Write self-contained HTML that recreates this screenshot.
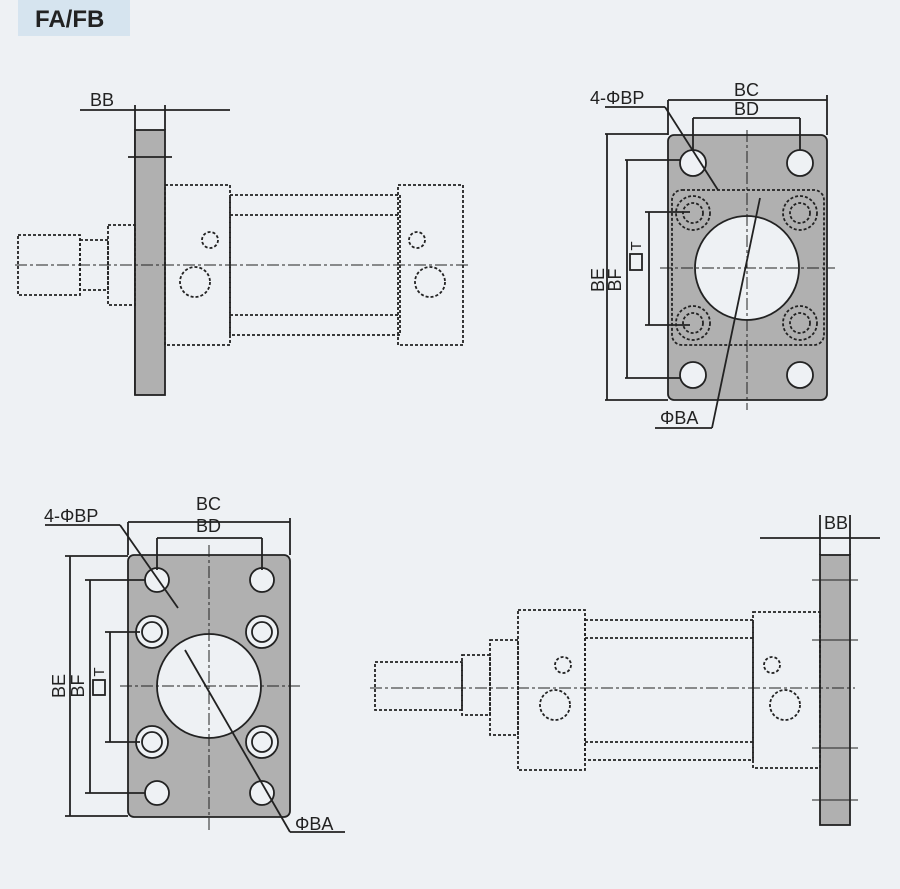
<!DOCTYPE html>
<html><head><style>
html,body{margin:0;padding:0;background:#eef1f4;}
svg{display:block;}
text{font-family:"Liberation Sans",sans-serif;fill:#222;}
</style></head><body>
<svg width="900" height="889" viewBox="0 0 900 889" xmlns="http://www.w3.org/2000/svg">
<rect width="900" height="889" fill="#eef1f4"/>
<rect x="18" y="0" width="112" height="36" fill="#d6e4ef"/>
<text x="35" y="27" font-size="24" font-weight="bold">FA/FB</text>

<g stroke="#222" fill="none" stroke-width="1.8">
<!-- Left side view (top) -->
<line x1="80" y1="110" x2="230" y2="110"/>
<line x1="135" y1="105" x2="135" y2="395"/>
<line x1="165" y1="105" x2="165" y2="130"/>
<rect x="135" y="130" width="30" height="265" fill="#b0b0b0"/>
<line x1="128" y1="157" x2="172" y2="157"/>
<g stroke-dasharray="3,2">
<rect x="165" y="185" width="65" height="160"/>
<rect x="230" y="195" width="170" height="140"/>
<rect x="398" y="185" width="65" height="160"/>
<rect x="108" y="225" width="27" height="80"/>
<rect x="80" y="240" width="28" height="50"/>
<rect x="18" y="235" width="62" height="60"/>
<circle cx="210" cy="240" r="8"/>
<circle cx="195" cy="282" r="15"/>
<circle cx="417" cy="240" r="8"/>
<circle cx="430" cy="282" r="15"/>
<line x1="230" y1="215" x2="398" y2="215"/>
<line x1="230" y1="315" x2="398" y2="315"/>
</g>
<line x1="15" y1="265" x2="470" y2="265" stroke-dasharray="12,3,3,3" stroke-width="1"/>

<!-- Top-right front view -->
<rect x="668" y="135" width="159" height="265" rx="6" fill="#b0b0b0"/>
<rect x="672" y="190" width="152" height="155" rx="10" stroke-dasharray="3,2"/>
<circle cx="747" cy="268" r="52" fill="#eef1f4"/>
<g fill="#eef1f4">
<circle cx="693" cy="163" r="13"/><circle cx="800" cy="163" r="13"/>
<circle cx="693" cy="375" r="13"/><circle cx="800" cy="375" r="13"/>
</g>
<g stroke-dasharray="3,2">
<circle cx="693" cy="213" r="17"/><circle cx="800" cy="213" r="17"/>
<circle cx="693" cy="323" r="17"/><circle cx="800" cy="323" r="17"/>
<circle cx="693" cy="213" r="10"/><circle cx="800" cy="213" r="10"/>
<circle cx="693" cy="323" r="10"/><circle cx="800" cy="323" r="10"/>
</g>
<line x1="747" y1="130" x2="747" y2="410" stroke-dasharray="12,3,3,3" stroke-width="1"/>
<line x1="660" y1="268" x2="835" y2="268" stroke-dasharray="12,3,3,3" stroke-width="1"/>
<line x1="668" y1="100" x2="668" y2="135"/><line x1="827" y1="95" x2="827" y2="135"/>
<line x1="668" y1="100" x2="827" y2="100"/>
<line x1="693" y1="118" x2="693" y2="150"/><line x1="800" y1="118" x2="800" y2="150"/>
<line x1="693" y1="118" x2="800" y2="118"/>
<line x1="605" y1="134" x2="668" y2="134"/><line x1="605" y1="400" x2="668" y2="400"/>
<line x1="607" y1="134" x2="607" y2="400"/>
<line x1="625" y1="160" x2="680" y2="160"/><line x1="625" y1="378" x2="680" y2="378"/>
<line x1="627" y1="160" x2="627" y2="378"/>
<line x1="645" y1="212" x2="690" y2="212"/><line x1="645" y1="325" x2="690" y2="325"/>
<line x1="649" y1="212" x2="649" y2="325"/>
<rect x="630" y="254" width="12" height="16" fill="#eef1f4"/>
<line x1="605" y1="107" x2="665" y2="107"/>
<line x1="665" y1="107" x2="718" y2="190"/>
<line x1="760" y1="198" x2="712" y2="428"/>
<line x1="655" y1="428" x2="712" y2="428"/>

<!-- Bottom-left front view -->
<rect x="128" y="555" width="162" height="262" rx="6" fill="#b0b0b0"/>
<circle cx="209" cy="686" r="52" fill="#eef1f4"/>
<g fill="#eef1f4">
<circle cx="157" cy="580" r="12"/><circle cx="262" cy="580" r="12"/>
<circle cx="157" cy="793" r="12"/><circle cx="262" cy="793" r="12"/>
<circle cx="152" cy="632" r="16"/><circle cx="262" cy="632" r="16"/>
<circle cx="152" cy="742" r="16"/><circle cx="262" cy="742" r="16"/>
<circle cx="152" cy="632" r="10"/><circle cx="262" cy="632" r="10"/>
<circle cx="152" cy="742" r="10"/><circle cx="262" cy="742" r="10"/>
</g>
<line x1="209" y1="545" x2="209" y2="830" stroke-dasharray="12,3,3,3" stroke-width="1"/>
<line x1="120" y1="686" x2="300" y2="686" stroke-dasharray="12,3,3,3" stroke-width="1"/>
<line x1="128" y1="522" x2="128" y2="555"/><line x1="290" y1="518" x2="290" y2="555"/>
<line x1="128" y1="522" x2="290" y2="522"/>
<line x1="157" y1="538" x2="157" y2="570"/><line x1="262" y1="538" x2="262" y2="570"/>
<line x1="157" y1="538" x2="262" y2="538"/>
<line x1="65" y1="556" x2="128" y2="556"/><line x1="65" y1="816" x2="128" y2="816"/>
<line x1="70" y1="556" x2="70" y2="816"/>
<line x1="85" y1="580" x2="145" y2="580"/><line x1="85" y1="793" x2="145" y2="793"/>
<line x1="90" y1="580" x2="90" y2="793"/>
<line x1="105" y1="632" x2="140" y2="632"/><line x1="105" y1="742" x2="140" y2="742"/>
<line x1="110" y1="632" x2="110" y2="742"/>
<rect x="93" y="680" width="12" height="15" fill="#eef1f4"/>
<line x1="45" y1="525" x2="120" y2="525"/>
<line x1="120" y1="525" x2="178" y2="608"/>
<line x1="185" y1="650" x2="290" y2="832"/>
<line x1="290" y1="832" x2="345" y2="832"/>

<!-- Bottom-right side view -->
<line x1="760" y1="538" x2="880" y2="538"/>
<line x1="820" y1="515" x2="820" y2="555"/><line x1="850" y1="515" x2="850" y2="555"/>
<rect x="820" y="555" width="30" height="270" fill="#b0b0b0"/>
<g stroke-dasharray="3,2">
<rect x="518" y="610" width="67" height="160"/>
<rect x="585" y="620" width="168" height="140"/>
<rect x="753" y="612" width="67" height="156"/>
<rect x="490" y="640" width="28" height="95"/>
<rect x="462" y="655" width="28" height="60"/>
<rect x="375" y="662" width="87" height="48"/>
<circle cx="563" cy="665" r="8"/>
<circle cx="555" cy="705" r="15"/>
<circle cx="772" cy="665" r="8"/>
<circle cx="785" cy="705" r="15"/>
<line x1="585" y1="638" x2="753" y2="638"/>
<line x1="585" y1="742" x2="753" y2="742"/>
</g>
<line x1="370" y1="688" x2="855" y2="688" stroke-dasharray="12,3,3,3" stroke-width="1"/>
<g stroke-width="1"><line x1="812" y1="640" x2="858" y2="640"/><line x1="812" y1="748" x2="858" y2="748"/><line x1="812" y1="580" x2="858" y2="580"/><line x1="812" y1="800" x2="858" y2="800"/></g>
</g>

<g font-size="18">
<text x="90" y="106">BB</text>
<text x="824" y="529">BB</text>
<text x="590" y="104">4-ΦBP</text>
<text x="734" y="96">BC</text>
<text x="734" y="115">BD</text>
<text x="660" y="424">ΦBA</text>
<text x="604" y="280" text-anchor="middle" transform="rotate(-90 604 280)">BE</text>
<text x="621" y="280" text-anchor="middle" transform="rotate(-90 621 280)">BF</text>
<text x="641" y="246" text-anchor="middle" font-size="15" transform="rotate(-90 641 246)">T</text>
<text x="44" y="522">4-ΦBP</text>
<text x="196" y="510">BC</text>
<text x="196" y="532">BD</text>
<text x="295" y="830">ΦBA</text>
<text x="65" y="686" text-anchor="middle" transform="rotate(-90 65 686)">BE</text>
<text x="84" y="686" text-anchor="middle" transform="rotate(-90 84 686)">BF</text>
<text x="104" y="672" text-anchor="middle" font-size="15" transform="rotate(-90 104 672)">T</text>
</g>
</svg>
</body></html>
